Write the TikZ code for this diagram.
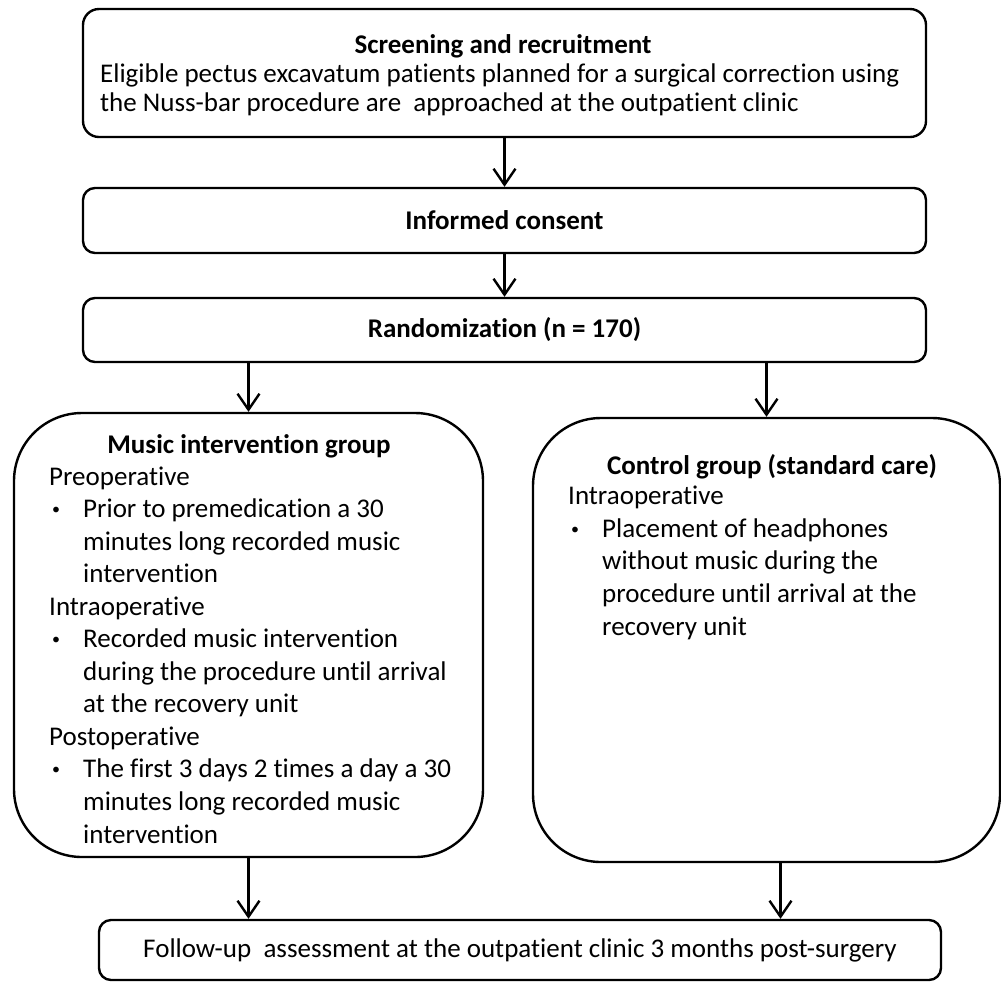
\documentclass[tikz,border=0pt]{standalone}
\usepackage{fontspec}
\setmainfont{Carlito}[Ligatures=NoCommon]
\usetikzlibrary{arrows.meta,calc}

\newcommand{\bitem}{\makebox[17pt][l]{\hspace{1.5pt}\raisebox{1.6pt}{\fontsize{8}{8}\selectfont\textbullet}}}
\newcommand{\bcont}{\hspace*{17pt}}

\begin{document}
\begin{tikzpicture}[
  x=0.5pt, y=-0.5pt,
  line width=1.2pt,
  every node/.style = {font=\fontsize{13.5}{16.27}\selectfont, inner sep=0pt},
  stagebox/.style = {draw, rounded corners=6pt, minimum width=421.5pt},
  groupbox/.style = {draw, rounded corners=34pt, minimum height=222pt},
  flow/.style = {-{Straight Barb[length=8pt,width=11pt]}}
]
  \useasboundingbox (0,0) rectangle (1001,982);

  % anchor=base of a multi-line node sits on its last line
  \node[stagebox, rounded corners=8pt, minimum height=64pt] (screen) at (504.5,73) {};
  \node[anchor=base] (screentitle) at (503,53) {\textbf{Screening and recruitment}};
  \node[anchor=base west, align=left, font=\fontsize{13.5}{14.5}\selectfont] (screentext) at (99,111)
    {Eligible pectus excavatum patients planned for a surgical correction using\\
     the Nuss-bar procedure are\ \ approached at the outpatient clinic};

  \node[stagebox, minimum height=32.5pt] (consent) at (504.5,220.5) {\textbf{Informed consent}};
  \node[stagebox, minimum height=32pt] (random) at (504.5,330) {\textbf{Randomization (n = 170)}};

  \node[groupbox, minimum width=234.5pt] (music) at (248.5,635) {};
  \node[anchor=base] (musictitle) at (249,453) {\textbf{Music intervention group}};
  \node[anchor=base west, align=left] (musictext) at (48,843)
    {Preoperative\\
     \bitem Prior to premedication a 30\\
     \bcont minutes long recorded music\\
     \bcont intervention\\
     Intraoperative\\
     \bitem Recorded music intervention\\
     \bcont during the procedure until arrival\\
     \bcont at the recovery unit\\
     Postoperative\\
     \bitem The first 3 days 2 times a day a 30\\
     \bcont minutes long recorded music\\
     \bcont intervention};

  \node[groupbox, minimum width=233.5pt] (control) at (766.5,640) {};
  \node[anchor=base] (controltitle) at (772,474) {\textbf{Control group (standard care)}};
  \node[anchor=base west, align=left] (controltext) at (567,635)
    {Intraoperative\\
     \bitem Placement of headphones\\
     \bcont without music during the\\
     \bcont procedure until arrival at the\\
     \bcont recovery unit};

  \node[draw, rounded corners=6pt, minimum width=421pt, minimum height=30pt] (follow) at (520,950)
    {Follow-up\ \ assessment at the outpatient clinic 3 months post-surgery};

  \draw[flow] (screen) -- (consent);
  \draw[flow] (consent) -- (random);
  \draw[flow] (random.south -| music) -- (music.north);
  \draw[flow] (random.south -| control) -- (control.north);
  \draw[flow] (music.south) -- (music.south |- follow.north);
  \coordinate (controlout) at ($(control.south)+(14,0)$);
  \draw[flow] (controlout) -- (controlout |- follow.north);
\end{tikzpicture}
\end{document}
